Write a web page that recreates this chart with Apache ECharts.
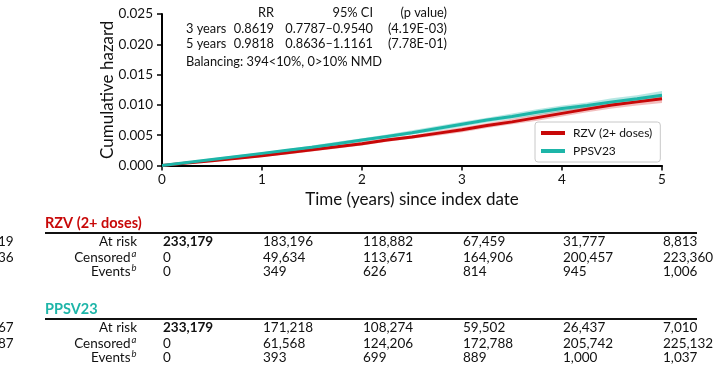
<!DOCTYPE html>
<html>
<head>
<meta charset="utf-8">
<script src="https://cdn.jsdelivr.net/npm/echarts@6/dist/echarts.min.js"></script>
<style>
html,body{margin:0;padding:0;background:#fff;}
#chart{width:728px;height:373px;}
</style>
</head>
<body>
<div id="chart"></div>
<script>
// ---- data ----
const times = [0,0.25,0.5,0.75,1,1.25,1.5,1.75,2,2.25,2.5,2.75,3,3.25,3.5,3.75,4,4.25,4.5,4.75,5];
const rzv     = [0,0.0004,0.0008,0.0012,0.0016,0.0021,0.0026,0.0031,0.0036,0.0042,0.0047,0.0053,0.0059,0.0066,0.0072,0.0079,0.0086,0.0093,0.0100,0.0105,0.0110];
const rzvLow  = [0,0.0003,0.0006,0.0010,0.0014,0.0018,0.0023,0.0028,0.0033,0.0039,0.0044,0.0049,0.0055,0.0062,0.0068,0.0074,0.0081,0.0088,0.0094,0.0099,0.0103];
const rzvHigh = [0,0.0005,0.0010,0.0014,0.0018,0.0024,0.0029,0.0034,0.0039,0.0045,0.0050,0.0057,0.0063,0.0070,0.0077,0.0084,0.0091,0.0098,0.0106,0.0111,0.0117];
const ppsv     = [0,0.0005,0.0010,0.0015,0.0020,0.0025,0.0030,0.0036,0.0042,0.0048,0.0054,0.0061,0.0068,0.0075,0.0081,0.0088,0.0094,0.0099,0.0105,0.0110,0.0116];
const ppsvLow  = [0,0.0004,0.0008,0.0013,0.0018,0.0023,0.0028,0.0033,0.0039,0.0045,0.0051,0.0057,0.0064,0.0071,0.0077,0.0083,0.0089,0.0094,0.0099,0.0104,0.0109];
const ppsvHigh = [0,0.0006,0.0012,0.0017,0.0022,0.0027,0.0033,0.0039,0.0045,0.0051,0.0058,0.0065,0.0072,0.0079,0.0086,0.0093,0.0099,0.0104,0.0111,0.0116,0.0123];

const seriesNames = ['RZV (2+ doses)', 'PPSV23'];
const xTicks = [0,1,2,3,4,5];

const annotHeader = ['RR', '95% CI', '(p value)'];
const annotRows = [
  ['3 years', '0.8619', '0.7787\u20130.9540', '(4.19E-03)'],
  ['5 years', '0.9818', '0.8636\u20131.1161', '(7.78E-01)']
];
const balancingText = 'Balancing: 394<10%, 0>10% NMD';

const tableTimes = [0,1,2,3,4,5];
const rowLabels = ['At risk', 'Censored', 'Events'];
const rowSup = ['', 'a', 'b'];
const rzvAtRisk   = [233179,183196,118882,67459,31777,8813];
const rzvCensored = [0,49634,113671,164906,200457,223360];
const rzvEvents   = [0,349,626,814,945,1006];
const ppsvAtRisk   = [233179,171218,108274,59502,26437,7010];
const ppsvCensored = [0,61568,124206,172788,205742,225132];
const ppsvEvents   = [0,393,699,889,1000,1037];
const leftFragmentsTop = ['19','36'];
const leftFragmentsBottom = ['67','87'];

// ---- styles ----
const RED = '#c80808';
const TEAL = '#1db5a8';
const FONT = 'Lato, "DejaVu Sans", sans-serif';

const chart = echarts.init(document.getElementById('chart'), null, {renderer:'canvas'});
const pairs = ys => times.map((t,i)=>[t, ys[i]]);

function band(name, lo, hi, color) {
  return {
    type:'custom', name:name, silent:true, z:1, clip:true,
    data:[[0,0]],
    renderItem:function(params, api){
      const top = times.map((t,i)=>api.coord([t, hi[i]]));
      const bot = times.map((t,i)=>api.coord([t, lo[i]])).reverse();
      return {type:'polygon', shape:{points:top.concat(bot)}, style:{fill:color}};
    }
  };
}

chart.setOption({
  animation:false,
  textStyle:{fontFamily:FONT},
  grid:{left:162, right:66, top:14, bottom:207.5, containLabel:false},
  xAxis:{
    type:'value', min:0, max:5, interval:1,
    axisLine:{lineStyle:{color:'#000', width:2}},
    axisTick:{show:true, length:5, lineStyle:{color:'#000', width:1.5}},
    axisLabel:{color:'#111', fontSize:13.5, margin:7, fontFamily:FONT,
               customValues: xTicks},
    splitLine:{show:false},
    name:'Time (years) since index date', nameLocation:'middle', nameGap:26,
    nameMoveOverlap:false,
    nameTextStyle:{color:'#111', fontSize:17, fontFamily:FONT}
  },
  yAxis:{
    type:'value', min:0, max:0.025, interval:0.005,
    axisLine:{show:true, lineStyle:{color:'#000', width:2}},
    axisTick:{show:true, length:5, lineStyle:{color:'#000', width:1.5}},
    axisLabel:{color:'#111', fontSize:13.5, margin:9, fontFamily:FONT,
               formatter:v=>v.toFixed(3)},
    splitLine:{show:false},
    name:'Cumulative hazard', nameLocation:'middle', nameGap:46,
    nameMoveOverlap:false,
    nameTextStyle:{color:'#111', fontSize:17, fontFamily:FONT}
  },
  legend:{
    data:seriesNames, orient:'vertical', left:535, top:122,
    icon:'rect', itemWidth:24, itemHeight:4, itemGap:6,
    padding:[5,8,5,6], borderColor:'#c8c8c8', borderWidth:1, borderRadius:3,
    backgroundColor:'#fff',
    textStyle:{fontSize:12, color:'#111', fontFamily:FONT, padding:[0,0,0,3]}
  },
  series:[
    band('rzvCI', rzvLow, rzvHigh, 'rgba(210,20,20,0.28)'),
    band('ppsvCI', ppsvLow, ppsvHigh, 'rgba(29,181,168,0.32)'),
    {type:'line', name:seriesNames[0], data:pairs(rzv), symbol:'none', z:3,
     color:RED, lineStyle:{color:RED, width:3}},
    {type:'line', name:seriesNames[1], data:pairs(ppsv), symbol:'none', z:4,
     color:TEAL, lineStyle:{color:TEAL, width:3}}
  ]
});

// ---- annotation + risk tables via graphic ----
function txt(x, y, text, opts) {
  opts = opts || {};
  return {type:'text', x:x, y:y, silent:true, style:{
    text:text, fill:opts.fill || '#111',
    font:(opts.weight||'normal')+' '+(opts.style||'normal')+' '+(opts.size||13)+'px '+FONT,
    fontFamily:FONT, fontSize:opts.size||13, fontWeight:opts.weight||'normal', fontStyle:opts.style||'normal',
    align:opts.align||'left', textAlign:opts.align||'left',
    verticalAlign:'middle', textVerticalAlign:'middle'
  }};
}

const g = [];
const annotColsRight = [274, 373, 447];
const annotY = [13, 29, 44];
annotHeader.forEach((h,i)=>g.push(txt(annotColsRight[i], annotY[0], h, {align:'right', size:12.8})));
annotRows.forEach((row,r)=>{
  g.push(txt(186, annotY[r+1], row[0], {size:12.8}));
  for (let c=1;c<row.length;c++) g.push(txt(annotColsRight[c-1], annotY[r+1], row[c], {align:'right', size:12.8}));
});
g.push(txt(186, 62, balancingText, {size:12.8}));

const colX = tableTimes.map(t => chart.convertToPixel({xAxisIndex:0}, t));
const fmt = v => v.toLocaleString('en-US');
function table(title, color, topY, rows) {
  g.push(txt(45, topY, title, {fill:color, weight:'bold', size:14.5}));
  g.push({type:'line', silent:true, shape:{x1:45, y1:topY+10, x2:697, y2:topY+10},
          style:{stroke:'#111', lineWidth:2}});
  const rowY = [topY+19, topY+34.5, topY+49];
  rowLabels.forEach((lab,r)=>{
    if (rowSup[r]) {
      g.push(txt(130.5, rowY[r], lab, {align:'right', size:13.5}));
      g.push(txt(131.5, rowY[r]-4, rowSup[r], {size:9.5, style:'italic'}));
    } else {
      g.push(txt(137, rowY[r], lab, {align:'right', size:13.5}));
    }
    rows[r].forEach((v,c)=>{
      g.push(txt(colX[c]+1, rowY[r], fmt(v), {size:13.5, weight:(r===0&&c===0)?'bold':'normal'}));
    });
  });
}
table(seriesNames[0], RED, 223, [rzvAtRisk, rzvCensored, rzvEvents]);
table(seriesNames[1], TEAL, 309, [ppsvAtRisk, ppsvCensored, ppsvEvents]);
leftFragmentsTop.forEach((s,i)=>g.push(txt(-2, 242+i*15.5, s, {size:13.5})));
leftFragmentsBottom.forEach((s,i)=>g.push(txt(-2, 328+i*15.5, s, {size:13.5})));

chart.setOption({graphic:{elements:g}});
</script>
</body>
</html>
